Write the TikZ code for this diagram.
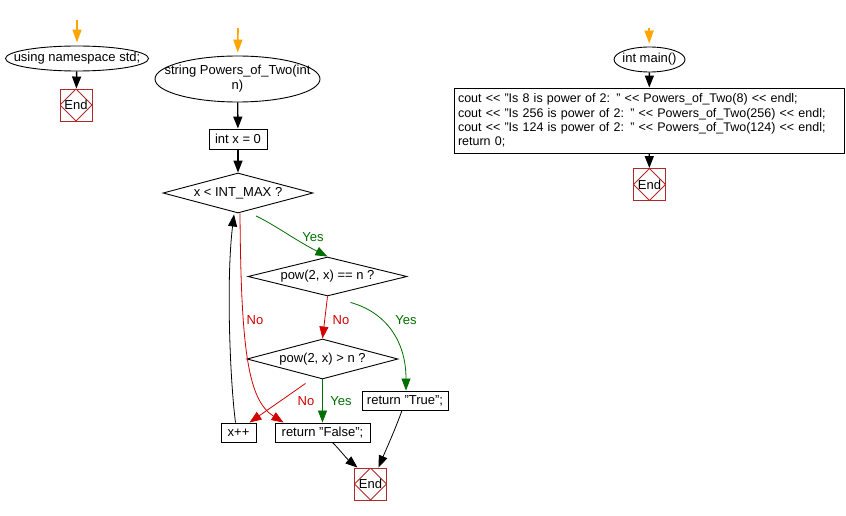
\documentclass[tikz,border=0pt]{standalone}
\usepackage{fontspec}
\setmainfont{Liberation Sans}
\usetikzlibrary{arrows.meta,shapes.geometric}
\definecolor{startc}{RGB}{255,165,0}
\definecolor{endc}{RGB}{176,40,40}
\definecolor{noc}{RGB}{210,0,0}
\definecolor{yesc}{RGB}{0,110,0}
\tikzset{
  every node/.style={font=\fontsize{13}{14.3}\selectfont},
  box/.style={draw, rectangle, inner sep=0, line width=0.9pt},
  dec/.style={draw, diamond, inner sep=0, aspect=3.5, line width=0.9pt},
  term/.style={draw, ellipse, inner sep=0, line width=0.9pt},
  endnode/.style={draw=endc, rectangle, minimum size=32, inner sep=0, line width=0.9pt,
    path picture={\draw[endc, line width=0.9pt] (path picture bounding box.north) -- (path picture bounding box.east) -- (path picture bounding box.south) -- (path picture bounding box.west) -- cycle;}},
  arr/.style={line width=1.4pt, -{Triangle[width=9pt,length=12pt]}},
  thin/.style={line width=0.8pt, -{Triangle[width=9pt,length=12pt]}},
  startarr/.style={draw=startc, line width=1.6pt, -{Triangle[width=9pt,length=13pt]}, shorten >=3pt},
  yes/.style={thin, draw=yesc},
  no/.style={thin, draw=noc},
  blk/.style={thin, draw=black},
  yeslab/.style={text=yesc},
  nolab/.style={text=noc},
}
\begin{document}
\begin{tikzpicture}[x=1pt, y=-1pt]
\useasboundingbox[fill=white] (0,0) rectangle (846,516);

% ---------- left: using namespace std ----------
\node[term, minimum width=143, minimum height=25] (ns) at (77,58.5) {\makebox[0pt]{using namespace std;}};
\coordinate (s1) at (77,20);
\draw[startarr] (s1) -- (ns);
\node[endnode] (end1) at (76,105) {End};
\draw[arr] (ns) -- (end1);

% ---------- middle: Powers_of_Two ----------
\node[term, minimum width=165, minimum height=46] (fn) at (237.5,79) {\makebox[0pt]{\begin{tabular}{@{}c@{}}string Powers\_of\_Two(int\\n)\end{tabular}}};
\coordinate (s2) at (238,28);
\draw[startarr] (s2) -- (fn);
\node[box, minimum width=58, minimum height=20] (init) at (238,139) {int x = 0};
\draw[arr] (fn) -- (init);
\node[dec, minimum width=150, minimum height=40] (d1) at (238,193) {x < INT\_MAX ?};
\draw[arr] (init) -- (d1);
\node[dec, minimum width=159, minimum height=39] (d2) at (327.5,276.5) {pow(2, x) == n ?};
\node[dec, minimum width=151, minimum height=40] (d3) at (322.5,359) {pow(2, x) > n ?};
\node[box, minimum width=35, minimum height=19] (inc) at (238.5,432.5) {x++};
\node[box, minimum width=95, minimum height=19] (rf) at (322.5,432.5) {return "False";};
\node[box, minimum width=86, minimum height=19] (rt) at (405,400.5) {return "True";};
\node[endnode] (end2) at (370.5,484) {End};

% d1 yes -> d2
\draw[yes] ([xshift=18pt,yshift=-2.5pt]d1.south) .. controls (275,225) and (295,240) .. (d2.north);
\node[yeslab] (lyes1) at (313,237) {Yes};
% d1 no -> return False
\draw[no] ([xshift=2pt]d1.south) .. controls (241,350) and (248,400) .. ([xshift=-39pt]rf.north);
\node[nolab] (lno1) at (255,320) {No};
% d2 no -> d3
\draw[no] (d2.south) -- (d3.north);
\node[nolab] (lno2) at (341,320) {No};
% d2 yes -> return True
\draw[yes] ([xshift=23pt,yshift=-6pt]d2.south) .. controls (385,312) and (406,340) .. ([xshift=1pt]rt.north);
\node[yeslab] (lyes2) at (406,320) {Yes};
% d3 no -> x++
\draw[no] ([xshift=-17pt,yshift=-4pt]d3.south) -- ([xshift=11pt]inc.north);
\node[nolab] (lno3) at (306,401) {No};
% d3 yes -> return False
\draw[yes] (d3.south) -- (rf.north);
\node[yeslab] (lyes3) at (341,401) {Yes};
% x++ -> d1
\draw[blk] ([xshift=-3pt]inc.north) .. controls (230,380) and (226,280) .. ([xshift=-4pt,yshift=-1pt]d1.south);
% returns -> End
\draw[blk] ([xshift=10pt]rf.south) .. controls (340,450) and (346,458) .. ([xshift=-13pt]end2.north);
\draw[blk] ([xshift=-3pt]rt.south) .. controls (395,430) and (385,452) .. ([xshift=8pt]end2.north);

% ---------- right: main ----------
\node[term, minimum width=71, minimum height=25] (mn) at (649.5,59.5) {\makebox[0pt]{int main()}};
\coordinate (s3) at (649,28);
\draw[startarr] (s3) -- (mn);
\node[box, minimum width=390, minimum height=65, text width=382, inner xsep=4, align=left, font=\fontsize{12.5}{14.3}\selectfont] (body) at (649,120.5) {\mbox{cout <{}< "Is 8 is power of 2: " <{}< Powers\_of\_Two(8) <{}< endl;}\\\mbox{cout <{}< "Is 256 is power of 2: " <{}< Powers\_of\_Two(256) <{}< endl;}\\\mbox{cout <{}< "Is 124 is power of 2: " <{}< Powers\_of\_Two(124) <{}< endl;}\\\mbox{return 0;}};
\draw[arr] (mn) -- (body);
\node[endnode] (end3) at (649.5,184.5) {End};
\draw[arr] (body) -- (end3);
\end{tikzpicture}
\end{document}
